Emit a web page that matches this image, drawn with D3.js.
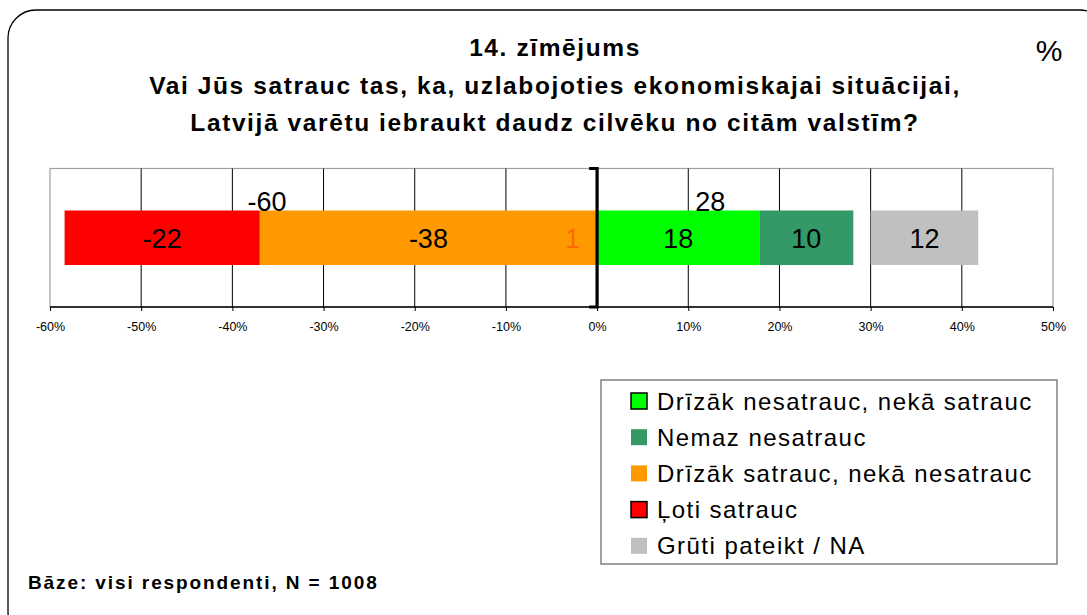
<!DOCTYPE html>
<html>
<head>
<meta charset="utf-8">
<script src="https://cdn.jsdelivr.net/npm/d3@7"></script>
<style>
html,body{margin:0;padding:0;background:#fff;}
svg{display:block;font-family:"Liberation Sans",Arial,sans-serif;}
</style>
</head>
<body>
<svg id="chart" width="1087" height="615"></svg>
<script>
// ---- data ----
const titleLines = ["14. zīmējums", "Vai Jūs satrauc tas, ka, uzlabojoties ekonomiskajai situācijai,", "Latvijā varētu iebraukt daudz cilvēku no citām valstīm?"];
const seriesNames = ["Ļoti satrauc", "Drīzāk satrauc, nekā nesatrauc", "Drīzāk nesatrauc, nekā satrauc", "Nemaz nesatrauc", "Grūti pateikt / NA"];
const seriesColors = ["#FF0000", "#FF9900", "#00FF00", "#339966", "#C0C0C0"];
const seriesValues = [-21.4, -37.0, 17.8, 10.3, 11.8];
const seriesLabels = ["-22", "-38", "18", "10", "12"];
const naStart = 30;            // Grūti pateikt bar starts after a gap
const totalLabels = ["-60", "28"];
const totalPositions = [-36.2, 12.4];
const smallLabel = "1";
const smallLabelPos = -2.7;
const xTicks = [-60, -50, -40, -30, -20, -10, 0, 10, 20, 30, 40, 50];
const legendOrder = ["Drīzāk nesatrauc, nekā satrauc", "Nemaz nesatrauc", "Drīzāk satrauc, nekā nesatrauc", "Ļoti satrauc", "Grūti pateikt / NA"];
const legendBordered = ["Drīzāk nesatrauc, nekā satrauc", "Ļoti satrauc"];
const footnote = "Bāze: visi respondenti, N = 1008";
const unitLabel = "%";

// ---- layout ----
const svg = d3.select("#chart");
const plot = {left: 50, right: 1053, top: 168.5, bottom: 307};

svg.append("rect").attr("x", 8).attr("y", 10).attr("width", 1100).attr("height", 630)
  .attr("rx", 28).attr("ry", 28).attr("fill", "#fff").attr("stroke", "#000").attr("stroke-width", 1.3);

const x = d3.scaleLinear().domain([-60, 50]).range([plot.left, plot.right]);
const y = d3.scaleBand().domain(["q"]).range([plot.top, plot.bottom]).paddingOuter(0.77).paddingInner(0);

// title
const tg = svg.append("g");
titleLines.forEach((t, i) => {
  tg.append("text").attr("x", 555).attr("y", 56 + i * 37.5)
    .attr("text-anchor", "middle").attr("font-size", 24.5).attr("font-weight", "bold")
    .attr("letter-spacing", 1.6).attr("fill", "#000").text(t);
});
svg.append("text").attr("x", 1049).attr("y", 61).attr("text-anchor", "middle")
  .attr("font-size", 30).attr("fill", "#000").text(unitLabel);

// plot area frame
svg.append("rect").attr("x", plot.left).attr("y", plot.top)
  .attr("width", plot.right - plot.left).attr("height", plot.bottom - plot.top)
  .attr("fill", "none").attr("stroke", "#a0a0a0").attr("stroke-width", 1.2);

// gridlines
svg.append("g").selectAll("line").data(xTicks.filter(d => d > -60 && d < 50)).join("line")
  .attr("x1", d => x(d)).attr("x2", d => x(d))
  .attr("y1", plot.top).attr("y2", plot.bottom)
  .attr("stroke", d => d === 0 ? "#a0a0a0" : "#000").attr("stroke-width", 1);

// bars: negatives stack outward from zero (series nearest zero first)
const bars = [];
let negAcc = 0, posAcc = 0;
const negOrder = seriesValues.map((v, i) => i).filter(i => seriesValues[i] < 0).reverse();
negOrder.forEach(i => {
  const v = seriesValues[i];
  bars.push({x0: negAcc + v, x1: negAcc, color: seriesColors[i], label: seriesLabels[i]});
  negAcc += v;
});
seriesValues.forEach((v, i) => {
  if (v < 0) return;
  let x0, x1;
  if (i === 4) { x0 = naStart; x1 = naStart + v; }
  else { x0 = posAcc; x1 = posAcc + v; posAcc += v; }
  bars.push({x0, x1, color: seriesColors[i], label: seriesLabels[i]});
});
const bandY = y("q"), bandH = y.bandwidth();
svg.append("g").selectAll("rect").data(bars).join("rect")
  .attr("x", d => x(Math.min(d.x0, d.x1))).attr("width", d => Math.abs(x(d.x1) - x(d.x0)))
  .attr("y", bandY).attr("height", bandH).attr("fill", d => d.color);

svg.append("g").selectAll("text").data(bars).join("text")
  .attr("x", d => x((d.x0 + d.x1) / 2)).attr("y", bandY + bandH / 2 + 10)
  .attr("text-anchor", "middle").attr("font-size", 27).attr("fill", "#000").text(d => d.label);

svg.append("text").attr("x", x(smallLabelPos)).attr("y", bandY + bandH / 2 + 10)
  .attr("text-anchor", "middle").attr("font-size", 27).attr("fill", "#FF6A00").text(smallLabel);

// totals
svg.append("g").selectAll("text").data(totalLabels).join("text")
  .attr("x", (d, i) => x(totalPositions[i])).attr("y", bandY + 0.5)
  .attr("text-anchor", "middle").attr("font-size", 27).attr("fill", "#000").text(d => d);

// zero line with caps
const zx = x(0);
svg.append("path")
  .attr("d", `M${zx - 8},${plot.top} H${zx} V${plot.bottom} H${zx - 8}`)
  .attr("fill", "none").attr("stroke", "#000").attr("stroke-width", 3.2);

// x axis
const axis = d3.axisBottom(x).tickValues(xTicks).tickFormat(d => d + "%").tickSize(4).tickPadding(11);
const ag = svg.append("g").attr("transform", `translate(0,${plot.bottom})`).call(axis);
ag.select(".domain").attr("stroke", "#000").attr("stroke-width", 1.5).attr("d", `M${plot.left},0H${plot.right}`);
ag.selectAll(".tick line").attr("stroke", "#000");
ag.selectAll(".tick text").attr("font-size", 12.5).attr("font-family", "Liberation Sans, Arial, sans-serif").attr("fill", "#000");

// legend
const lg = svg.append("g");
lg.append("rect").attr("x", 601).attr("y", 380).attr("width", 456).attr("height", 184)
  .attr("fill", "#fff").attr("stroke", "#808080").attr("stroke-width", 1.5);
legendOrder.forEach((name, i) => {
  const idx = seriesNames.indexOf(name);
  const cy = 401 + i * 36.2;
  const bordered = legendBordered.includes(name);
  lg.append("rect").attr("x", 631).attr("y", cy - 8).attr("width", 16).attr("height", 16)
    .attr("fill", seriesColors[idx]).attr("stroke", bordered ? "#000" : "none").attr("stroke-width", 1.5);
  lg.append("text").attr("x", 657).attr("y", cy + 8.6).attr("font-size", 24)
    .attr("letter-spacing", 1.45).attr("fill", "#000").text(name);
});

// footnote
svg.append("text").attr("x", 28).attr("y", 589).attr("font-size", 19).attr("font-weight", "bold")
  .attr("letter-spacing", 1.9).attr("fill", "#000").text(footnote);
</script>
</body>
</html>
